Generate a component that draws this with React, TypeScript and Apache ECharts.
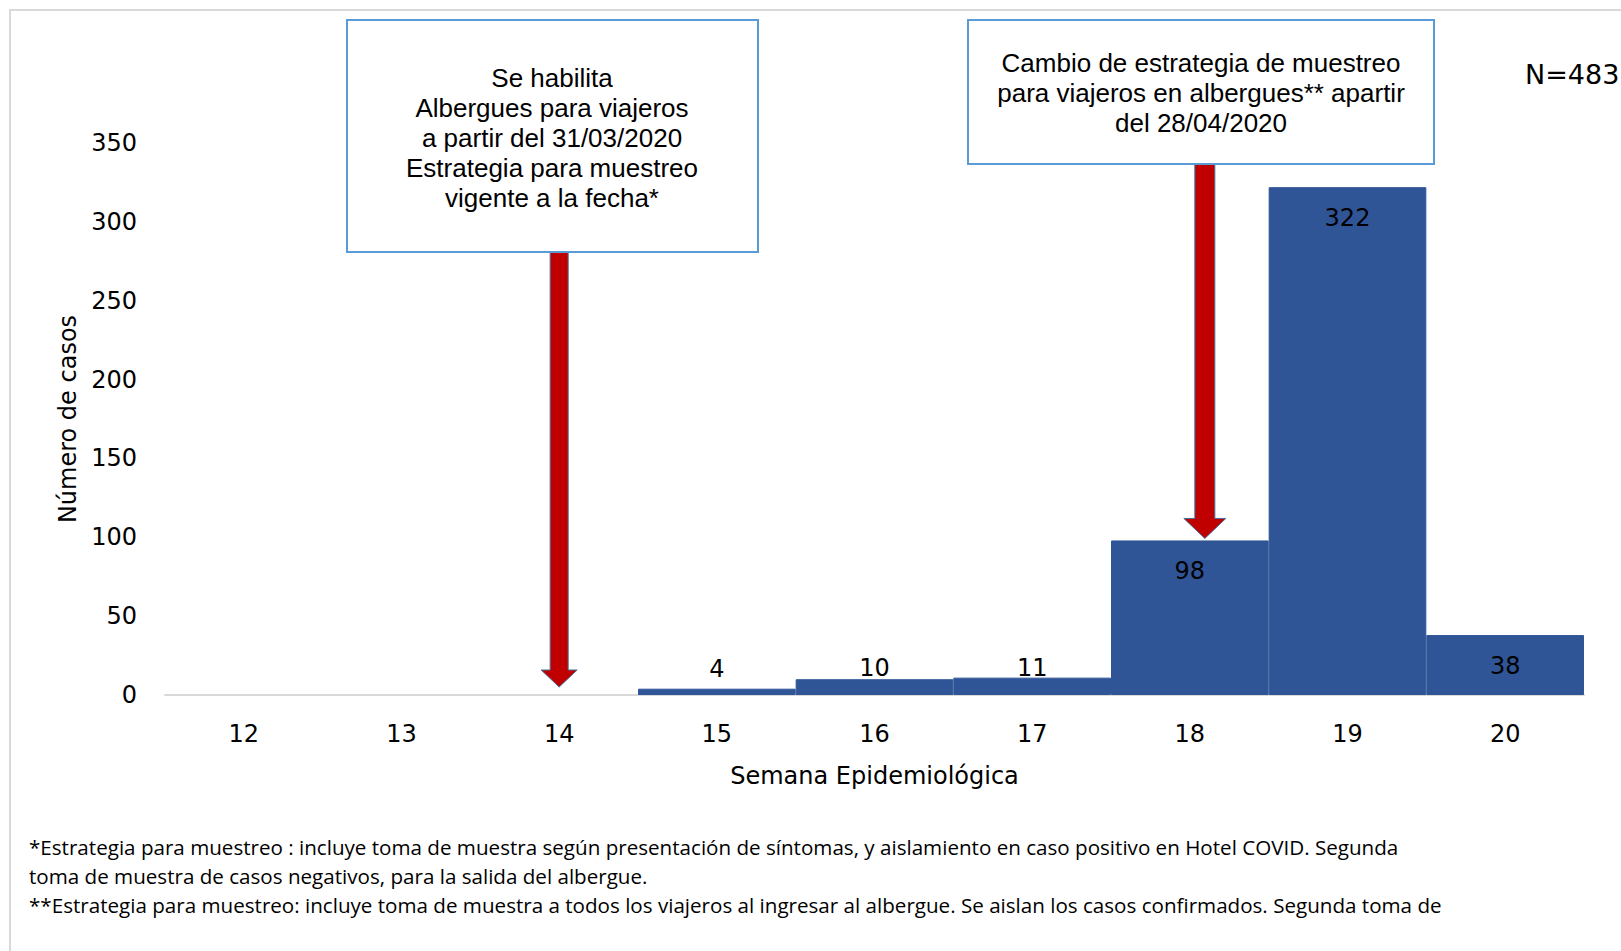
import React, { useEffect, useRef } from "react";
import * as echarts from "echarts";

const weeks = ["12", "13", "14", "15", "16", "17", "18", "19", "20"];
const cases = [0, 0, 0, 4, 10, 11, 98, 322, 38];
const yMax = 350;
const yStep = 50;
const xAxisTitle = "Semana Epidemiológica";
const yAxisTitle = "Número de casos";
const totalLabel = "N=483";
const box1Lines = [
  "Se habilita",
  "Albergues para viajeros",
  "a partir del 31/03/2020",
  "Estrategia para muestreo",
  "vigente a la fecha*",
];
const box2Lines = [
  "Cambio de estrategia de muestreo",
  "para viajeros en albergues** apartir",
  "del 28/04/2020",
];
const arrow1Target = { week: "14", value: 0 };
const arrow2Target = { week: "18", value: 98 };
const footnotes = [
  "*Estrategia para muestreo : incluye toma de muestra según presentación de síntomas, y aislamiento en caso positivo en Hotel COVID. Segunda",
  "toma de muestra de casos negativos, para la salida del albergue.",
  "**Estrategia para muestreo: incluye toma de muestra a todos los viajeros al ingresar al albergue. Se aislan los casos confirmados. Segunda toma de",
];

const FONT = "DejaVu Sans";
const BOXFONT = "Liberation Sans";

export default function App() {
  const ref = useRef<HTMLDivElement>(null);

  useEffect(() => {
    if (!ref.current) return;
    const chart = echarts.init(ref.current, undefined, { renderer: "svg" });

    const smallLabelDistance: Record<number, number> = { 3: 8, 4: -1, 5: -2 };

    const data = cases.map((v, i) => {
      if (v === 0)
        return { value: v, label: { show: false }, itemStyle: { borderWidth: 0, opacity: 0 } };
      if (smallLabelDistance[i] !== undefined) {
        return {
          value: v,
          label: { show: true, position: "top", distance: smallLabelDistance[i] },
        };
      }
      return { value: v, label: { show: true, position: "insideTop", distance: 19 } };
    });

    chart.setOption({
      animation: false,
      backgroundColor: "#ffffff",
      grid: { left: 165, right: 37, top: 143, bottom: 256, containLabel: false },
      xAxis: {
        type: "category",
        data: weeks,
        axisLine: { show: true, lineStyle: { color: "#D9D9D9", width: 2 } },
        axisTick: { show: false },
        axisLabel: { margin: 27, fontSize: 24, fontFamily: FONT, color: "#000" },
        name: xAxisTitle,
        nameLocation: "middle",
        nameGap: 69,
        nameTextStyle: { fontSize: 24, fontFamily: FONT, color: "#000" },
      },
      yAxis: {
        type: "value",
        min: 0,
        max: yMax,
        interval: yStep,
        axisLine: { show: false },
        axisTick: { show: false },
        splitLine: { show: false },
        axisLabel: { margin: 28, fontSize: 24, fontFamily: FONT, color: "#000" },
        name: yAxisTitle,
        nameLocation: "middle",
        nameGap: 85,
        nameTextStyle: { fontSize: 24, fontFamily: FONT, color: "#000" },
      },
      series: [
        {
          type: "bar",
          data,
          barCategoryGap: "0%",
          itemStyle: { color: "#2F5597", borderColor: "#2F5597", borderWidth: 1 },
          label: { fontSize: 24, fontFamily: FONT, color: "#000" },
        },
      ],
    });

    const p1 = chart.convertToPixel({ xAxisIndex: 0, yAxisIndex: 0 }, [
      weeks.indexOf(arrow1Target.week),
      arrow1Target.value,
    ]) as number[];
    const p2 = chart.convertToPixel({ xAxisIndex: 0, yAxisIndex: 0 }, [
      weeks.indexOf(arrow2Target.week),
      arrow2Target.value,
    ]) as number[];

    const arrow = (cx: number, topY: number, tipY: number, sw: number, hw: number, hh: number) => ({
      type: "polygon",
      z: 100,
      shape: {
        points: [
          [cx - sw / 2, topY],
          [cx + sw / 2, topY],
          [cx + sw / 2, tipY - hh],
          [cx + hw / 2, tipY - hh],
          [cx, tipY],
          [cx - hw / 2, tipY - hh],
          [cx - sw / 2, tipY - hh],
        ],
      },
      style: { fill: "#C00000", stroke: "#41719C", lineWidth: 1 },
    });

    const box = (x: number, y: number, w: number, h: number) => ({
      type: "rect",
      z: 110,
      shape: { x, y, width: w, height: h },
      style: { fill: "#ffffff", stroke: "#5B9BD5", lineWidth: 2 },
    });

    const boxText = (lines: string[], cx: number, cy: number) => ({
      type: "text",
      z: 120,
      x: cx,
      y: cy,
      style: {
        text: lines.join("\n"),
        fontSize: 26,
        lineHeight: 30,
        fontFamily: BOXFONT,
        fill: "#000",
        align: "center",
        verticalAlign: "middle",
      },
    });

    chart.setOption({
      graphic: [
        {
          type: "rect",
          z: 1,
          shape: { x: 10, y: 10, width: 1700, height: 1100 },
          style: { fill: "none", stroke: "#D9D9D9", lineWidth: 2 },
        },
        arrow(p1[0], 250, p1[1] - 8, 18, 36, 17),
        arrow(p2[0] + 15, 162, p2[1] - 2, 20, 42, 20),
        box(347, 20, 411, 232),
        box(968, 20, 466, 144),
        boxText(box1Lines, 552, 138),
        boxText(box2Lines, 1201, 93),
        {
          type: "text",
          z: 120,
          x: 1525,
          y: 74,
          style: {
            text: totalLabel,
            fontSize: 27,
            fontFamily: FONT,
            fill: "#000",
            align: "left",
            verticalAlign: "middle",
          },
        },
        ...footnotes.map((t, i) => ({
          type: "text",
          z: 120,
          x: 29,
          y: 847 + i * 29,
          style: {
            text: t,
            fontSize: 20.6,
            fontFamily: "Open Sans",
            fill: "#000",
            align: "left",
            verticalAlign: "middle",
          },
        })),
      ],
    });

    return () => chart.dispose();
  }, []);

  return (
    <div
      ref={ref}
      style={{ position: "fixed", left: 0, top: 0, width: 1621, height: 951, background: "#fff" }}
    />
  );
}
